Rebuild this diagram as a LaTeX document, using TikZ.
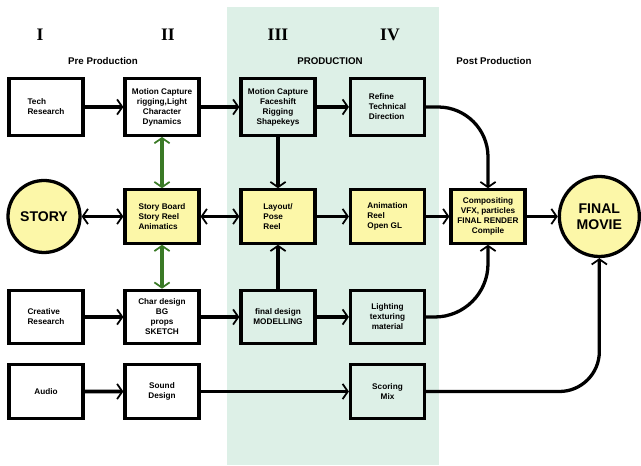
\documentclass[tikz,border=0pt]{standalone}
\usepackage{fontspec}
\setmainfont{Liberation Sans}
\newfontfamily\romanfont{Liberation Serif}
\usepackage{tikz}
\usetikzlibrary{positioning, arrows.meta, shapes, backgrounds}
\definecolor{bandgreen}{RGB}{221,240,231}
\definecolor{boxyellow}{RGB}{252,247,168}
\definecolor{linkgreen}{RGB}{58,122,38}
\tikzstyle{stage} = [rectangle, minimum width=2.22cm, minimum height=1.6cm, text centered, align=center, draw=black, line width=2.7pt, font=\fontsize{7}{8.5}\selectfont\bfseries]
\tikzstyle{plain} = [stage, fill=white]
\tikzstyle{reel} = [stage, fill=boxyellow]
\tikzstyle{bubble} = [circle, draw=black, line width=2.8pt, fill=boxyellow, align=center, font=\fontsize{12}{14}\selectfont\bfseries]
\tikzstyle{arrow} = [line width=3.3pt, -{Straight Barb[length=4.5pt,width=13pt,line width=1.5pt]}]
\tikzstyle{twoway} = [line width=3.3pt, {Straight Barb[length=4.5pt,width=13pt,line width=1.5pt]}-{Straight Barb[length=4.5pt,width=13pt,line width=1.5pt]}]
\tikzstyle{greenway} = [twoway, draw=linkgreen]
\tikzstyle{heading} = [font=\fontsize{8.3}{10}\selectfont\bfseries]
\tikzstyle{numeral} = [font=\fontsize{15}{17}\selectfont\romanfont\bfseries]

\begin{document}
\begin{tikzpicture}[node distance=1cm]
        \useasboundingbox (0,0) rectangle (19.23,13.98);
        \fill [bandgreen] (6.8,0.03) rectangle (13.17,13.77);

        % stage numbers and phases
        \node (numI) [numeral] at (1.2,12.945) {I};
        \node (numII) [numeral] at (5.04,12.945) {II};
        \node (numIII) [numeral] at (8.34,12.945) {III};
        \node (numIV) [numeral] at (11.7,12.945) {IV};
        \node (pre) [heading] at (3.09,12.135) {Pre Production};
        \node (prod) [heading] at (9.9,12.135) {PRODUCTION};
        \node (post) [heading] at (14.82,12.135) {Post Production};

        % first row
        \node (tech) [plain, minimum height=1.7cm, align=left] at (1.38,10.77) {Tech\\Research};
        \node (rig) [plain, minimum height=1.7cm, right of=tech, xshift=2.48cm] {Motion Capture\\rigging,Light\\Character\\Dynamics};
        \node (face) [stage, minimum height=1.7cm, right of=rig, xshift=2.48cm] {Motion Capture\\Faceshift\\Rigging\\Shapekeys};
        \node (refine) [stage, minimum height=1.7cm, align=left, right of=face, xshift=2.285cm] {Refine\\Technical\\Direction};

        % second row
        \node (story) [bubble, minimum size=2.16cm, below of=tech, yshift=-2.285cm, xshift=-0.06cm] {STORY};
        \node (board) [reel, align=left, below of=rig, yshift=-2.285cm] {Story Board\\Story Reel\\Animatics};
        \node (layout) [reel, align=left, below of=face, yshift=-2.285cm] {Layout/\\Pose\\Reel};
        \node (anim) [reel, align=left, below of=refine, yshift=-2.285cm] {Animation\\Reel\\Open GL};
        \node (comp) [reel, right of=anim, xshift=2.015cm] {Compositing\\VFX, particles\\FINAL RENDER\\Compile};
        \node (final) [bubble, minimum size=2.4cm, right of=comp, xshift=2.34cm] {FINAL\\MOVIE};

        % third row
        \node (creative) [plain, align=left] at (1.38,4.47) {Creative\\Research};
        \node (char) [plain, below of=board, yshift=-2.015cm] {Char design\\BG\\props\\SKETCH};
        \node (model) [stage, below of=layout, yshift=-2.015cm] {final design\\MODELLING};
        \node (light) [stage, below of=anim, yshift=-2.015cm] {Lighting\\texturing\\material};

        % fourth row
        \node (audio) [plain, below of=creative, yshift=-1.235cm] {Audio};
        \node (sound) [plain, below of=char, yshift=-1.235cm] {Sound\\Design};
        \node (score) [stage, below of=light, yshift=-1.235cm] {Scoring\\Mix};

        \draw [arrow] (tech) -- (rig);
        \draw [arrow] (rig) -- (face);
        \draw [arrow] (face) -- (refine);
        \draw [arrow] (face) -- (layout);
        \draw [greenway] (rig) -- (board);
        \draw [greenway] (board) -- (char);
        \draw [twoway] (story) -- (board);
        \draw [twoway] (board) -- (layout);
        \draw [arrow] (layout) -- (anim);
        \draw [arrow] (anim) -- (comp);
        \draw [arrow] (comp) -- (final);
        \draw [arrow] (creative) -- (char);
        \draw [arrow] (char) -- (model);
        \draw [arrow] (model) -- (layout);
        \draw [arrow] (model) -- (light);
        \draw [arrow] (audio) -- (sound);
        \draw [arrow] (sound) -- (score);
        \draw [arrow, line width=2.8pt, rounded corners=1.5cm] (refine.east) -| (comp.north);
        \draw [arrow, line width=2.8pt, rounded corners=1.6cm] (light.east) -| (comp.south);
        \draw [arrow, line width=2.8pt, rounded corners=1.2cm] (score.east) -| (final.south);

        \end{tikzpicture}
\end{document}
